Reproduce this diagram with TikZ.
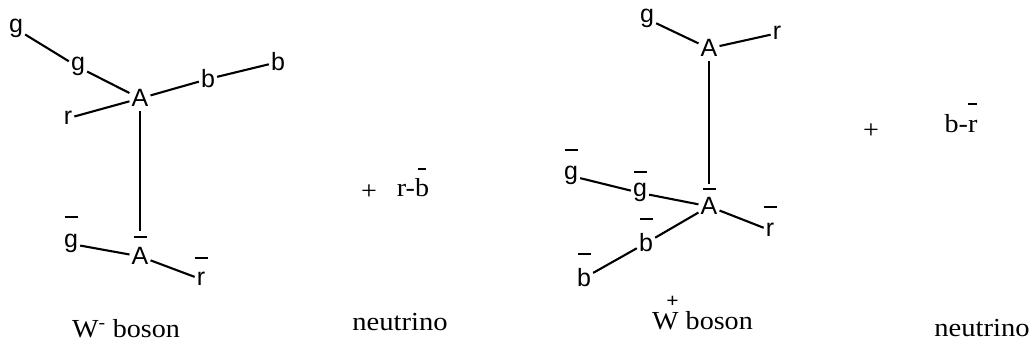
\documentclass[tikz,border=0pt]{standalone}
\usepackage{fontspec}
\setmainfont{Liberation Serif}
\setsansfont{Liberation Sans}
\newcommand\ovb[2][27pt]{\leavevmode\setbox0=\hbox{#2}\rlap{\hbox to\wd0{\hss\smash{\raisebox{#1}{\rule{13pt}{1.8pt}}}\hss}}\box0}
\newcommand\ovs[2][27pt]{\leavevmode\setbox0=\hbox{#2}\rlap{\hbox to\wd0{\hss\smash{\raisebox{#1}{\rule{8pt}{1.8pt}}}\hss}}\box0}
\begin{document}
\begin{tikzpicture}[x=1pt,y=-1pt,
  lab/.style={font=\sffamily\fontsize{25}{25}\selectfont, inner sep=2pt, anchor=base},
  ser/.style={font=\rmfamily\fontsize{26}{26}\selectfont, inner sep=0pt},
  edge/.style={line width=2.1pt}]
\useasboundingbox (0,0) rectangle (1034,352);
% ---- W- boson ----
\node[lab] (ga) at (16,33) {g};
\node[lab] (gb) at (78,71) {g};
\node[lab] (A1) at (140,107) {A};
\node[lab] (r1) at (68,125) {r};
\node[lab] (bm) at (208,88) {b};
\node[lab] (be) at (278,71) {b};
\node[lab] (Ag) at (71,248) {\ovb[30pt]{g}};
\node[lab] (Ab1) at (140,265) {\ovb[27pt]{A}};
\node[lab] (Ar) at (201,286) {\ovb[27pt]{r}};
\draw[edge] (ga) -- (gb);
\draw[edge] (gb) -- (A1);
\draw[edge] (r1) -- (A1);
\draw[edge] (A1) -- (bm);
\draw[edge] (bm) -- (be);
\draw[edge, shorten <=2pt, shorten >=15pt] (A1) -- (Ab1);
\draw[edge] (Ag) -- (Ab1);
\draw[edge] (Ab1) -- (Ar);
\node[ser, anchor=base west] (wm) at (72,338) {\scalebox{1.08}[1]{W\textsuperscript{-} boson}};
% ---- neutrino 1 ----
\node[ser] (plus1) at (369,192) {\scalebox{1.08}[1]{+}};
\node[ser, anchor=base] (rb) at (413,197) {\scalebox{1.08}[1]{r-\ovs[27pt]{b}}};
\node[ser, anchor=base] (nu1) at (400,331) {\scalebox{1.1}[1]{neutrino}};
% ---- W+ boson ----
\node[lab] (g2) at (647,23) {g};
\node[lab] (A2) at (709,57) {A};
\node[lab] (r2) at (777,40) {r};
\node[lab] (gb1) at (571,180) {\ovb[29pt]{g}};
\node[lab] (gb2) at (640,197) {\ovb[24pt]{g}};
\node[lab] (Ab2) at (709,215) {\ovb[25pt]{A}};
\node[lab] (rb2) at (770,237) {\ovb[29pt]{r}};
\node[lab] (bb1) at (646,252) {\ovb[32pt]{b}};
\node[lab] (bb2) at (584,287) {\ovb[32pt]{b}};
\draw[edge] (g2) -- (A2);
\draw[edge] (A2) -- (r2);
\draw[edge, shorten <=2pt, shorten >=12pt] (A2) -- (Ab2);
\draw[edge] (gb1) -- (gb2);
\draw[edge] (gb2) -- (Ab2);
\draw[edge] (Ab2) -- (rb2);
\draw[edge] (Ab2) -- (bb1);
\draw[edge] (bb1) -- (bb2);
\node[ser, anchor=base west] (wp) at (652,330) {\scalebox{1.08}[1]{W\llap{\raisebox{22pt}{\fontsize{20}{20}\selectfont\bfseries +}}\ boson}};
% ---- neutrino 2 ----
\node[ser] (plus2) at (871,131) {\scalebox{1.08}[1]{+}};
\node[ser, anchor=base] (br) at (961,133) {\scalebox{1.08}[1]{b-\ovs[28pt]{r}}};
\node[ser, anchor=base] (nu2) at (982,337) {\scalebox{1.1}[1]{neutrino}};
\end{tikzpicture}
\end{document}
